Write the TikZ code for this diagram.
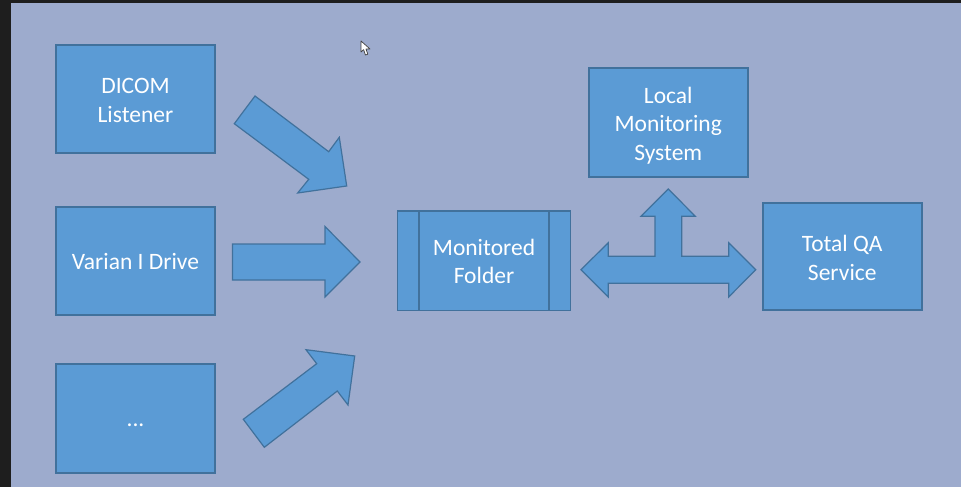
\documentclass[tikz,border=0pt]{standalone}
\usepackage{fontspec}
\setmainfont{Carlito}
\definecolor{pagebg}{HTML}{9DABCD}
\definecolor{frameDark}{HTML}{1E1E1E}
\definecolor{boxfill}{HTML}{5B9BD5}
\definecolor{boxline}{HTML}{41719C}
\tikzset{
  box/.style={draw=boxline,fill=boxfill,line width=1.5pt,inner sep=0pt,minimum width=159pt,minimum height=108pt},
  boxtext/.style={text=white,align=center,font=\fontsize{23.5}{28.5}\selectfont,inner sep=0pt,yshift=-1.5pt},
  blockarrow/.style={draw=boxline,fill=boxfill,line width=1.2pt,line join=miter}
}
\begin{document}
\begin{tikzpicture}[x=1pt,y=-1pt]
\useasboundingbox (0,0) rectangle (961,487);
\fill[frameDark] (0,0) rectangle (961,487);
\fill[pagebg] (11,3) rectangle (961,487);
% boxes
\node[box,label={[boxtext]center:DICOM\\Listener}] (dicom) at (135.5,99) {};
\node[box,label={[boxtext,yshift=1pt]center:Varian I Drive}] (varian) at (135.5,261) {};
\node[box,minimum height=109pt,label={[boxtext,yshift=-5.5pt]center:...}] (dots) at (135.5,418.5) {};
\node[box,minimum width=172.6pt,minimum height=99.5pt,label={[boxtext,yshift=1pt]center:Monitored\\Folder}] (folder) at (484,260.75) {};
\draw[boxline,line width=1.5pt] ([xshift=22pt]folder.north west) -- ([xshift=22pt]folder.south west);
\draw[boxline,line width=1.5pt] ([xshift=-22pt]folder.north east) -- ([xshift=-22pt]folder.south east);
\node[box,minimum height=109pt,label={[boxtext,yshift=-1.5pt]center:Local\\Monitoring\\System}] (local) at (668.25,122.5) {};
\node[box,minimum height=107pt,label={[boxtext]center:Total QA\\Service}] (totalqa) at (842.25,256.5) {};
% block arrows
\draw[blockarrow] (255,96) -- (234.3,123.7) -- (308.7,179.3) -- (297.7,193) -- (346.7,186) -- (339.3,137.3) -- (328.7,151.7) -- cycle;
\draw[blockarrow] (232.5,244) -- (232.5,280) -- (325,280) -- (325,297) -- (360,262) -- (325,226.5) -- (325,244) -- cycle;
\draw[blockarrow] (243.3,419.3) -- (264.3,447.3) -- (337.3,391) -- (348,405) -- (354.7,356) -- (306,349.7) -- (316.7,363.7) -- cycle;
\draw[blockarrow] (581,269.7) -- (608.3,242.7) -- (608.3,256.3) -- (655,256.3) -- (655,216.3) -- (641,216.3) -- (668.3,189) -- (695.3,216.3) -- (681.7,216.3) -- (681.7,256.3) -- (728.7,256.3) -- (728.7,242.7) -- (755.7,269.7) -- (728.7,297) -- (728.7,283.3) -- (608.3,283.3) -- (608.3,297) -- cycle;
% mouse cursor
\draw[fill=white,draw=black!75,line width=.7pt,line join=round] (361,41) -- (361,52) -- (363.6,49.6) -- (365.4,55) -- (367.8,54.2) -- (366,49) -- (370,49) -- cycle;
\end{tikzpicture}
\end{document}
